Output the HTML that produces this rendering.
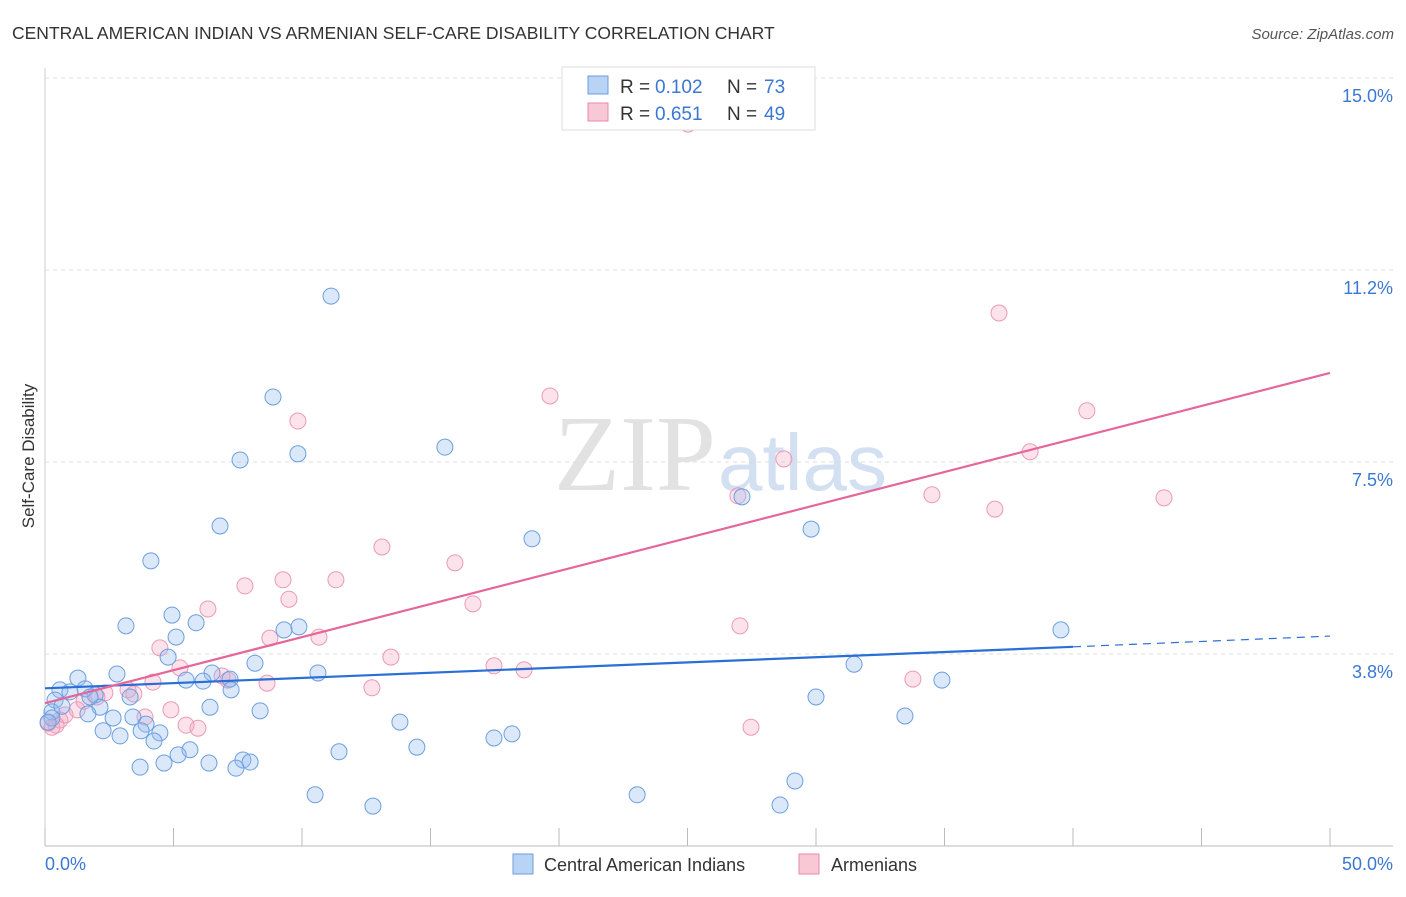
<!DOCTYPE html>
<html><head><meta charset="utf-8"><style>
body{margin:0;background:#fff;font-family:"Liberation Sans",sans-serif;}
</style></head><body>
<svg width="1406" height="892" xmlns="http://www.w3.org/2000/svg">
<text x="12" y="39" font-size="17.5" fill="#333">CENTRAL AMERICAN INDIAN VS ARMENIAN SELF-CARE DISABILITY CORRELATION CHART</text>
<text x="1394" y="39" font-size="15" fill="#555" font-style="italic" text-anchor="end">Source: ZipAtlas.com</text>
<text x="716" y="490" font-size="108" fill="#e2e2e2" text-anchor="end" font-family="Liberation Serif">ZIP</text>
<text x="718" y="490" font-size="80" fill="#d3e0f2">atlas</text>
<g id="grid"></g>
<g id="pts"></g>
<g id="lines"></g>
<text transform="translate(34,456) rotate(-90)" font-size="17" fill="#333" text-anchor="middle">Self-Care Disability</text>
<text x="45" y="870" font-size="18" fill="#3a78d4">0.0%</text>
<text x="1393" y="870" font-size="18" fill="#3a78d4" text-anchor="end">50.0%</text>
<g>
<rect x="562" y="67" width="253" height="63" fill="#fff" stroke="#ddd"/>
<rect x="588" y="76" width="20" height="18" fill="#b9d3f5" stroke="#6a9de0"/>
<rect x="588" y="103" width="20" height="18" fill="#f9c8d6" stroke="#e88aa8"/>
<text x="620" y="93" font-size="19" fill="#333">R =</text>
<text x="655" y="93" font-size="19" fill="#3a78d4">0.102</text>
<text x="727" y="93" font-size="19" fill="#333">N =</text>
<text x="764" y="93" font-size="19" fill="#3a78d4">73</text>
<text x="620" y="120" font-size="19" fill="#333">R =</text>
<text x="655" y="120" font-size="19" fill="#3a78d4">0.651</text>
<text x="727" y="120" font-size="19" fill="#333">N =</text>
<text x="764" y="120" font-size="19" fill="#3a78d4">49</text>
</g>
<g>
<rect x="513" y="854" width="20" height="20" fill="#b9d3f5" stroke="#6a9de0"/>
<text x="544" y="871" font-size="18" fill="#333">Central American Indians</text>
<rect x="799" y="854" width="20" height="20" fill="#f9c8d6" stroke="#e88aa8"/>
<text x="831" y="871" font-size="18" fill="#333">Armenians</text>
</g>
</svg>
<script>
const yTicks=[3.75,7.5,11.25,15];
const yTickLabels=["3.8%","7.5%","11.2%","15.0%"];
const bluePx=[[331,296],[273,397],[298,454],[240,460],[445,447],[220,526],[532,539],[151,561],[811,529],[742,497],[172,615],[196,623],[126,626],[176,637],[299,627],[284,630],[168,657],[255,663],[117,674],[78,678],[186,680],[212,673],[230,679],[203,681],[318,673],[854,664],[942,680],[1061,630],[60,690],[70,692],[95,695],[130,697],[231,690],[816,697],[55,700],[100,707],[210,707],[260,711],[52,712],[88,714],[113,718],[133,717],[146,724],[400,722],[905,716],[103,731],[120,736],[141,731],[160,733],[154,741],[190,750],[178,755],[339,752],[417,747],[494,738],[512,734],[243,760],[250,762],[209,763],[164,763],[140,767],[236,768],[795,781],[315,795],[373,806],[637,795],[780,805],[52,718],[48,722],[85,689],[90,697],[62,706]];
const pinkPx=[[688,124],[999,313],[550,396],[298,421],[1087,411],[784,459],[1030,452],[738,496],[932,495],[1164,498],[995,509],[382,547],[455,563],[245,586],[283,580],[336,580],[289,599],[208,609],[473,604],[740,626],[270,638],[319,637],[160,648],[391,657],[180,668],[494,666],[524,670],[222,676],[228,680],[153,682],[267,683],[913,679],[372,688],[128,690],[105,693],[134,694],[97,697],[84,701],[171,710],[145,717],[77,710],[186,725],[198,728],[751,727],[60,720],[52,727],[48,723],[65,715],[56,725]];
const blueX=bluePx.map(p=>+((p[0]-45)/25.7).toFixed(2));
const blueY=bluePx.map(p=>+((846-p[1])/51.2).toFixed(2));
const pinkX=pinkPx.map(p=>+((p[0]-45)/25.7).toFixed(2));
const pinkY=pinkPx.map(p=>+((846-p[1])/51.2).toFixed(2));
const blueTrend=[[0,3.08],[40,3.89],[50,4.1]];
const pinkTrend=[[0,2.79],[50,9.24]];
const X=v=>45+v*25.7, Y=v=>846-v*51.2;
const NS="http://www.w3.org/2000/svg";
function mk(t,a,parent){const e=document.createElementNS(NS,t);for(const k in a)e.setAttribute(k,a[k]);parent.appendChild(e);return e;}
const g=document.getElementById('grid');
yTicks.forEach((t,i)=>{
 const l=mk('line',{x1:45,x2:1393,y1:Y(t),y2:Y(t),stroke:'#ddd','stroke-dasharray':'4,4'},g);
 
 
 const tx=mk('text',{x:1393,y:Y(t)+24,'font-size':18,fill:'#3a78d4','text-anchor':'end'},g);
 tx.textContent=yTickLabels[i];
 
 
});
const ax=mk('line',{x1:45,x2:1393,y1:846,y2:846,stroke:'#bbb'},g);


const ay=mk('line',{x1:45,x2:45,y1:68,y2:846,stroke:'#ccc'},g);


for(let i=0;i<=10;i++){const t=mk('line',{x1:X(i*5),x2:X(i*5),y1:828,y2:846,stroke:'#bbb'},g);
 
 }
const P=document.getElementById('pts');
pinkX.forEach((x,i)=>{const c=mk('circle',{cx:X(x),cy:Y(pinkY[i]),r:8,fill:'rgba(244,160,190,0.3)',stroke:'#eb9ab5','stroke-width':1},P);
 
 });
blueX.forEach((x,i)=>{const c=mk('circle',{cx:X(x),cy:Y(blueY[i]),r:8,fill:'rgba(150,190,240,0.35)',stroke:'#6c9fe0','stroke-width':1},P);
 
 });
const L=document.getElementById('lines');
const b1=mk('line',{x1:X(blueTrend[0][0]),y1:Y(blueTrend[0][1]),x2:X(blueTrend[1][0]),y2:Y(blueTrend[1][1]),stroke:'#2a6fd6','stroke-width':2.2},L);


const b2=mk('line',{x1:X(blueTrend[1][0]),y1:Y(blueTrend[1][1]),x2:X(blueTrend[2][0]),y2:Y(blueTrend[2][1]),stroke:'#2a6fd6','stroke-width':1.2,'stroke-dasharray':'8,6'},L);


const p1=mk('line',{x1:X(pinkTrend[0][0]),y1:Y(pinkTrend[0][1]),x2:X(pinkTrend[1][0]),y2:Y(pinkTrend[1][1]),stroke:'#e5679a','stroke-width':2.2},L);


</script>
</body></html>
